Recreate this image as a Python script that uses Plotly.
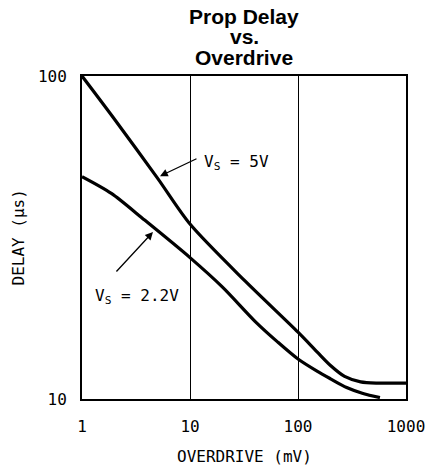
import plotly.graph_objects as go

# Data
overdrive_5v = [1, 2, 5, 10, 32.3, 100, 150, 200, 270, 380, 550, 1000]
delay_5v = [100, 73.5, 48.3, 34.8, 23.2, 16.1, 14.0, 12.7, 11.75, 11.3, 11.2, 11.2]

overdrive_22v = [1, 1.87, 3.8, 10, 20, 40, 65, 100, 150, 200, 282, 400, 574]
delay_22v = [48.8, 43.3, 35.8, 27.4, 22.2, 17.4, 15.0, 13.3, 12.2, 11.55, 10.85, 10.4, 10.1]

x_ticks = [1, 10, 100, 1000]
x_tick_text = ["1", "10", "100", "1000"]
y_ticks = [10, 100]
y_tick_text = ["10", "100"]

title_lines = ["Prop Delay", "vs.", "Overdrive"]

MONO = "DejaVu Sans Mono"
BOLD = "Liberation Sans"

fig = go.Figure()
for xs, ys in [(overdrive_5v, delay_5v), (overdrive_22v, delay_22v)]:
    fig.add_trace(go.Scatter(
        x=xs, y=ys, mode="lines",
        line=dict(color="black", width=3.2, shape="spline", smoothing=0.8),
        showlegend=False, hoverinfo="skip",
    ))

fig.update_layout(
    width=427, height=470,
    margin=dict(l=82, r=21, t=76, b=71, autoexpand=False),
    paper_bgcolor="white", plot_bgcolor="white",
    font=dict(family=MONO, size=16, color="black"),
    showlegend=False,
)

fig.update_xaxes(
    type="log", range=[0, 3], automargin=False,
    tickvals=x_ticks, ticktext=x_tick_text,
    showgrid=True, gridcolor="black", gridwidth=1.3,
    showline=True, mirror=True, linecolor="black", linewidth=2,
    ticks="", ticklabelstandoff=12,
    tickfont=dict(family=MONO, size=16, color="black"),
    zeroline=False,
)
fig.update_yaxes(
    type="log", range=[1, 2], automargin=False,
    tickvals=y_ticks, ticktext=y_tick_text,
    showgrid=False,
    showline=True, mirror=True, linecolor="black", linewidth=2,
    ticks="", ticklabelstandoff=10,
    tickfont=dict(family=MONO, size=16, color="black"),
    zeroline=False,
)

def py(p):
    # pixel row -> paper y
    return (399 - p) / 323.0

def px(p):
    return (p - 82) / 324.0

anns = []
# Title lines
for text, yp in zip(title_lines, [17, 37, 57]):
    anns.append(dict(text="<b>%s</b>" % text, xref="paper", yref="paper",
                     x=px(244), y=py(yp), xanchor="center", yanchor="middle",
                     showarrow=False, font=dict(family=BOLD, size=21, color="black")))
# Axis titles
anns.append(dict(text="OVERDRIVE (mV)", xref="paper", yref="paper",
                 x=0.5, y=py(456), xanchor="center", yanchor="middle",
                 showarrow=False, font=dict(family=MONO, size=16)))
anns.append(dict(text="DELAY (µs)", xref="paper", yref="paper",
                 x=px(18), y=0.5, xanchor="center", yanchor="middle", textangle=-90,
                 showarrow=False, font=dict(family=MONO, size=16)))
# Curve labels
anns.append(dict(text="V<sub>S</sub> = 5V", xref="paper", yref="paper",
                 x=px(202), y=py(162), xanchor="left", yanchor="middle",
                 showarrow=False, font=dict(family=MONO, size=16)))
anns.append(dict(text="V<sub>S</sub> = 2.2V", xref="paper", yref="paper",
                 x=px(93), y=py(296), xanchor="left", yanchor="middle",
                 showarrow=False, font=dict(family=MONO, size=16)))
# Arrows (log10 coordinates on log axes)
for head, tail in [((0.722, 1.690), (1.074, 1.746)), ((0.657, 1.517), (0.306, 1.390))]:
    anns.append(dict(text="", x=head[0], y=head[1], xref="x", yref="y",
                     ax=tail[0], ay=tail[1], axref="x", ayref="y",
                     showarrow=True, arrowhead=2, arrowsize=1.2, arrowwidth=1.3,
                     arrowcolor="black"))
fig.update_layout(annotations=anns)

fig.write_html(
    "out.html",
    config={"displayModeBar": False},
    post_script="document.body.style.margin='0';document.body.style.overflow='hidden';",
)
